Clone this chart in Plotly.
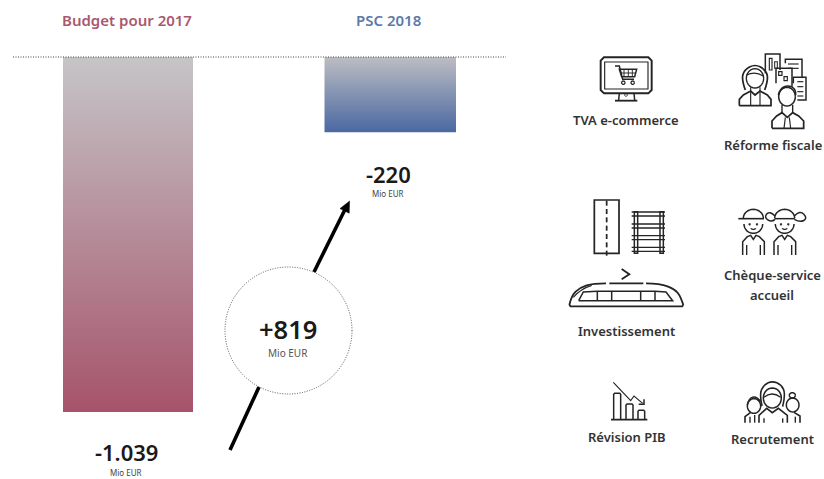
import math
import plotly.graph_objects as go

# ---------- data ----------
categories = ["Budget pour 2017", "PSC 2018"]
values = [-1039, -220]
value_labels = ["-1.039", "-220"]
delta_label = "+819"
unit = "Mio EUR"
icon_labels = ["TVA e-commerce", "Réforme fiscale", "Investissement",
               "Chèque-service", "accueil", "Révision PIB", "Recrutement"]

# ---------- layout constants ----------
W, H = 824, 479
Y0_PX, SCALE = 57.0, 355.0 / 1039.0
FONT = "Noto Sans"
INK = "#242424"
PEN = 1.15
BAR_X = [(63, 193), (324.5, 456)]
LABEL_X = [127, 388]
GRADS = [("#a6536b", "#c5c5c7"), ("#4a68a2", "#bdbdc3")]
TITLE_COL = ["#a9586f", "#5c79a8"]

fig = go.Figure()

def vy(px):
    return (Y0_PX - px) / SCALE

# bars with vertical gradients, built from the values
for cat, v, (x0, x1), (c_low, c_high) in zip(categories, values, BAR_X, GRADS):
    fig.add_trace(go.Scatter(
        x=[x0, x1, x1, x0, x0], y=[0, 0, v, v, 0], mode="lines", name=cat,
        line=dict(width=0, color="rgba(0,0,0,0)"), fill="toself",
        fillgradient=dict(type="vertical", start=v, stop=0,
                          colorscale=[[0, c_low], [1, c_high]]),
        hoverinfo="skip", showlegend=False))

# arrow segments in pixel overlay
fig.add_trace(go.Scatter(
    x=[230, 259, None, 314, 345.5], y=[450, 387, None, 272, 208.5],
    xaxis="x2", yaxis="y2", mode="lines",
    line=dict(color="#000000", width=3.6), hoverinfo="skip", showlegend=False))

shapes = []
def path(d, width=1.25, color=INK, fill=None):
    s = dict(type="path", path=d, xref="x2", yref="y2",
             line=dict(color=color, width=width))
    if fill:
        s["fillcolor"] = fill
    shapes.append(s)

class Icon:
    """Pen working in the coordinates of a 3x crop with a given origin."""
    def __init__(self, ox, oy):
        self.ox, self.oy = ox, oy
    def p(self, x, y):
        return f"{self.ox + x / 3:.2f},{self.oy + y / 3:.2f}"
    def pl(self, pts, w=1.25, close=False, smooth=False):
        if smooth and len(pts) > 2:
            d = "M" + self.p(*pts[0])
            for i in range(1, len(pts) - 1):
                mx = (pts[i][0] + pts[i + 1][0]) / 2
                my = (pts[i][1] + pts[i + 1][1]) / 2
                end = pts[-1] if i == len(pts) - 2 else (mx, my)
                d += " Q" + self.p(*pts[i]) + " " + self.p(*end)
        else:
            d = "M" + " L".join(self.p(*q) for q in pts)
        if close:
            d += " Z"
        path(d, w * PEN)
    def rect(self, x0, y0, x1, y1, w=1.25):
        self.pl([(x0, y0), (x1, y0), (x1, y1), (x0, y1)], w, close=True)
    def ell(self, cx, cy, rx, ry=None, w=1.25, a0=0, a1=360):
        ry = rx if ry is None else ry
        n = 28
        pts = [(cx + rx * math.cos(math.radians(a0 + (a1 - a0) * i / n)),
                cy + ry * math.sin(math.radians(a0 + (a1 - a0) * i / n))) for i in range(n + 1)]
        self.pl(pts, w)

# --- monitor + cart
a = Icon(560, 40)
a.pl([(132, 52), (265, 52), (275, 62), (275, 150), (265, 160), (132, 160), (122, 150), (122, 62)], 1.7, close=True)
a.rect(134, 66, 264, 147, 1.0)
a.pl([(165, 78), (178, 78), (188, 118), (222, 118)], 1.3)
a.pl([(178, 88), (230, 88), (224, 110), (185, 110)], 1.3, close=True)
for x in (192, 205, 217):
    a.pl([(x, 88), (x, 110)], 0.8)
a.pl([(182, 99), (227, 99)], 0.8)
a.ell(190, 128, 5, w=1.1)
a.ell(218, 128, 5, w=1.1)
a.pl([(178, 160), (176, 180)], 1.3)
a.pl([(222, 160), (224, 180)], 1.3)
a.pl([(165, 182), (232, 182)], 1.6)
a.ell(198, 165, 4, w=0.8)

# --- two people + buildings
b = Icon(560, 40)
b.pl([(616, 100), (616, 42), (660, 42), (660, 90)], 1.3)
b.rect(628, 55, 636, 90, 1.0)
b.rect(644, 65, 652, 85, 0.9)
b.pl([(676, 70), (676, 58), (726, 58), (726, 112)], 1.3)
b.pl([(684, 72), (716, 72)], 1.0)
b.pl([(684, 85), (716, 85)], 1.0)
b.pl([(648, 130), (648, 85), (696, 85), (696, 140)], 1.3)
b.rect(656, 95, 666, 106, 1.0)
b.rect(672, 110, 682, 122, 1.0)
b.pl([(712, 180), (738, 180), (738, 112), (700, 112), (700, 130)], 1.3)
for y in (125, 140, 155, 168):
    b.pl([(712, y), (730, y)], 1.0)
# woman
b.pl([(556, 150), (545, 120), (552, 90), (585, 72), (618, 90), (625, 120), (614, 150)], 1.5, smooth=True)
b.ell(585, 115, 26, 29, 1.2)
b.pl([(560, 105), (585, 92), (610, 108)], 1.0, smooth=True)
b.pl([(538, 197), (538, 178), (550, 165), (572, 153), (585, 165), (600, 153), (622, 165), (633, 178), (633, 197), (538, 197)], 1.5)
b.pl([(572, 142), (572, 197)], 1.0)
b.pl([(600, 142), (600, 197)], 1.0)
# man
b.ell(681, 170, 25, 28, 1.3)
b.pl([(655, 165), (660, 145), (685, 135), (708, 148), (707, 165)], 1.4, smooth=True)
b.pl([(636, 265), (636, 243), (650, 228), (666, 218), (682, 232), (698, 218), (716, 228), (731, 243), (731, 265), (636, 265)], 1.5)
b.pl([(666, 195), (666, 218)], 1.2)
b.pl([(698, 195), (698, 218)], 1.2)
b.pl([(676, 232), (672, 265)], 1.0)
b.pl([(688, 232), (692, 265)], 1.0)

# --- road, rails, train
c = Icon(560, 190)
c.rect(103, 30, 177, 190, 1.5)
for y in range(32, 190, 25):
    c.pl([(140, y), (140, y + 15)], 1.5)
for x in (228, 305):
    c.pl([(x - 5, 65), (x + 5, 65), (x + 5, 190), (x - 5, 190)], 1.3, close=True)
for y in (72, 108, 143, 178):
    c.pl([(215, y - 6), (315, y - 6)], 1.1)
    c.pl([(215, y + 6), (315, y + 6)], 1.1)
c.pl([(185, 237), (208, 253), (185, 268)], 1.6)
c.pl([(28, 345), (34, 318), (60, 292), (100, 280), (138, 280)], 1.6, smooth=True)
c.pl([(148, 280), (250, 280)], 1.5)
c.pl([(258, 280), (300, 280), (345, 298), (362, 320), (370, 345)], 1.6, smooth=True)
c.pl([(28, 345), (32, 349), (366, 349), (370, 345)], 1.6)
c.pl([(40, 322), (62, 296), (95, 286)], 1.0, smooth=True)
c.pl([(56, 332), (70, 306), (112, 304), (285, 304), (318, 306), (338, 332), (56, 332)], 1.3)
for x in (112, 155, 242, 285):
    c.pl([(x, 304), (x, 332)], 1.3)

# --- children
d = Icon(560, 190)
d.ell(580, 102, 28, 28, 1.3, 0, 180)
d.ell(580, 85, 30, 27, 1.3, 180, 360)
d.pl([(535, 86), (612, 86)], 1.4)
d.ell(674, 102, 28, 28, 1.3, 0, 180)
d.ell(674, 85, 30, 27, 1.3, 180, 360)
d.pl([(644, 86), (704, 86)], 1.3)
d.pl([(645, 78), (628, 62), (612, 82), (635, 97), (645, 88)], 1.3, smooth=True)
d.pl([(703, 78), (720, 60), (743, 85), (720, 98), (703, 88)], 1.3, smooth=True)
for cx in (580, 674):
    d.ell(cx - 11, 103, 1.5, w=1.2)
    d.ell(cx + 11, 103, 1.5, w=1.2)
    d.ell(cx, 113, 8, 5, 1.1, 20, 160)
    d.pl([(cx - 32, 195), (cx - 32, 155), (cx - 18, 140), (cx - 8, 136), (cx, 148), (cx + 8, 136), (cx + 18, 140), (cx + 33, 155), (cx + 33, 195)], 1.3)
    d.pl([(cx - 20, 165), (cx - 20, 195)], 1.2)
    d.pl([(cx + 21, 165), (cx + 21, 195)], 1.2)

# --- revision chart
e = Icon(560, 370)
e.pl([(153, 149), (262, 149)], 1.4)
for x0, x1, top in [(161, 182, 70), (198, 219, 102), (234, 254, 121)]:
    e.pl([(x0, 149), (x0, top + 3), (x0 + 3, top), (x1 - 3, top), (x1, top + 3), (x1, 149)], 1.3)
e.pl([(160, 37), (212, 92), (222, 78), (248, 100)], 1.0)
e.pl([(236, 103), (252, 103), (252, 88)], 1.3)

# --- team
f = Icon(560, 370)
f.ell(637, 84, 27, 30, 1.3)
f.pl([(606, 108), (598, 72), (612, 44), (637, 33), (664, 44), (677, 72), (668, 110)], 1.4, smooth=True)
f.pl([(612, 82), (635, 62), (662, 82)], 1.1, smooth=True)
f.pl([(597, 158), (597, 136), (620, 115), (637, 128), (655, 115), (682, 136), (682, 158)], 1.4)
f.ell(582, 108, 20, 22, 1.3)
f.pl([(562, 105), (566, 85), (590, 78), (602, 95)], 1.3, smooth=True)
f.pl([(555, 158), (555, 140), (572, 127)], 1.4)
f.pl([(570, 140), (570, 158)], 1.2)
f.pl([(584, 135), (584, 158)], 1.2)
f.ell(698, 105, 19, 21, 1.3)
f.ell(697, 76, 9, 8, 1.3)
f.pl([(720, 158), (720, 138), (702, 127)], 1.4)
f.pl([(706, 140), (706, 158)], 1.2)
f.pl([(612, 145), (612, 158)], 1.2)
f.pl([(668, 145), (668, 158)], 1.2)

# arrow head
path("M349.6,201 L349.2,213.2 L340.0,208.6 Z", 0.5, "#000000", "#000000")

# zero line
shapes.append(dict(type="line", xref="x", yref="y", x0=13, x1=506, y0=0, y1=0,
                   line=dict(color="#444444", width=1, dash="1px,1.5px")))
# circle
shapes.append(dict(type="circle", xref="x2", yref="y2", x0=225, x1=352, y0=267, y1=394,
                   fillcolor="#ffffff", line=dict(color="#555555", width=1, dash="1px,1.5px")))

ann = []
def text(x, y, s, size, color=INK, weight=400):
    ann.append(dict(x=x, y=y, xref="x2", yref="y2", text=s, showarrow=False,
                    xanchor="center", yanchor="middle",
                    font=dict(family=FONT, size=size, color=color, weight=weight)))

for i, cat in enumerate(categories):
    text(LABEL_X[i], 19.5, cat, 15, TITLE_COL[i], 600)

text(126, 452, value_labels[0], 22, "#1a1a1a", 600)
text(126, 472.5, unit, 8, "#444444")
text(388, 174, value_labels[1], 22, "#1a1a1a", 600)
text(388, 193.5, unit, 8, "#444444")
text(288, 329, delta_label, 25.5, "#1a1a1a", 600)
text(288, 352.5, unit, 10, "#555555")

icon_label_pos = [(626, 120), (773, 145), (626, 331), (772, 274.5), (772, 294.5), (627, 437), (772, 439)]
for s, (x, y) in zip(icon_labels, icon_label_pos):
    text(x, y, s, 13, "#333333", 600)

fig.update_layout(
    width=W, height=H, margin=dict(l=0, r=0, t=0, b=0), autosize=False,
    paper_bgcolor="#ffffff", plot_bgcolor="#ffffff", showlegend=False,
    xaxis=dict(range=[0, W], visible=False, fixedrange=True),
    yaxis=dict(range=[vy(H), vy(0)], visible=False, fixedrange=True),
    xaxis2=dict(range=[0, W], visible=False, overlaying="x", fixedrange=True),
    yaxis2=dict(range=[H, 0], visible=False, overlaying="y", fixedrange=True),
    shapes=shapes, annotations=ann,
)
fig.write_html("out.html", config=dict(displayModeBar=False),
               post_script="document.documentElement.style.overflow='hidden';document.body.style.margin='0';")
